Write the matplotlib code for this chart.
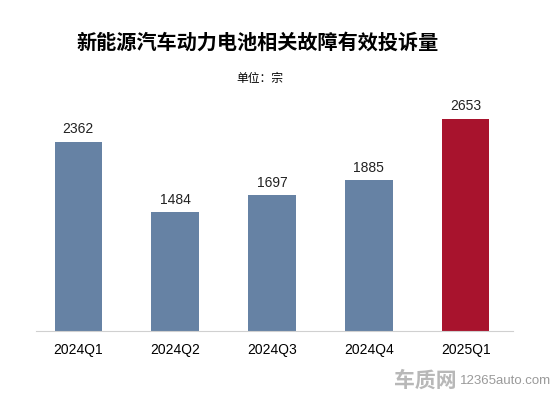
import matplotlib.pyplot as plt

plt.rcParams['font.family'] = ['Noto Sans CJK SC', 'DejaVu Sans']

quarters = ['2024Q1', '2024Q2', '2024Q3', '2024Q4', '2025Q1']
complaints = [2362, 1484, 1697, 1885, 2653]
bar_colors = ['#6682A4', '#6682A4', '#6682A4', '#6682A4', '#A8132D']

fig = plt.figure(figsize=(5.5, 3.94), dpi=100)
ax = fig.add_axes([0.065, 0.16, 0.868, 0.586])

x = range(len(quarters))
bars = ax.bar(x, complaints, width=0.49, color=bar_colors)
for xi, v in zip(x, complaints):
    ax.text(xi, v + 70, str(v), ha='center', va='bottom', fontsize=10,
            family=['Liberation Sans', 'DejaVu Sans'], color='#222222')

ax.set_xlim(-0.44, 4.49)
ax.set_ylim(0, 2887)
ax.set_xticks(list(x))
ax.set_xticklabels(quarters, fontsize=10, family=['Liberation Sans', 'DejaVu Sans'])
ax.tick_params(axis='x', length=0, pad=9)
ax.set_yticks([])
for s in ['top', 'right', 'left']:
    ax.spines[s].set_visible(False)
ax.spines['bottom'].set_color('#d0d0d0')

fig.text(0.469, 0.893, '新能源汽车动力电池相关故障有效投诉量', ha='center', va='center',
         fontsize=14.5, fontweight='bold')
fig.text(0.472, 0.8, '单位：宗', ha='center', va='center', fontsize=8.5)

# watermark
fig.text(0.716, 0.036, '车质网', ha='left', va='center', fontsize=15,
         fontweight='bold', color='#b8b8b8')
fig.text(0.836, 0.033, '12365auto.com', ha='left', va='center', fontsize=9.5,
         family=['Liberation Sans', 'DejaVu Sans'], color='#9a9a9a')

fig.savefig('out.png', dpi=100)
